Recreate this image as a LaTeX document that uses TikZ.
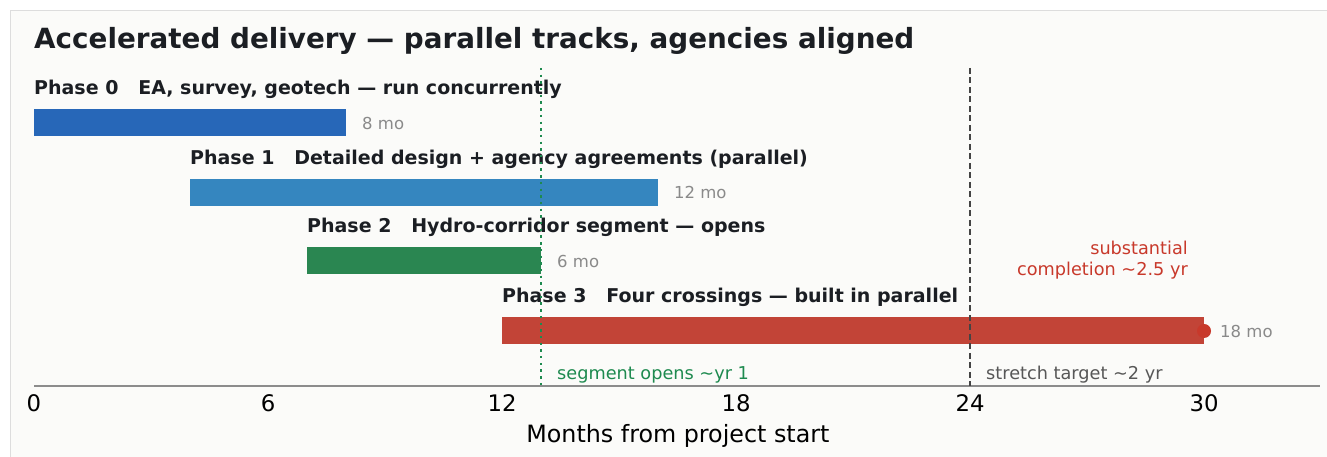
\documentclass[tikz,border=0pt]{standalone}
\usepackage{fontspec}
\setmainfont{DejaVu Sans}
\usepackage{tikz}
\usetikzlibrary{positioning}

\definecolor{inkdark}{HTML}{1B1E23}
\definecolor{durgray}{HTML}{8A8A8A}
\definecolor{panelbg}{HTML}{FBFBF9}
\definecolor{framegray}{HTML}{DDDDDD}
\definecolor{axisgray}{HTML}{8C8C8C}
\definecolor{phzero}{HTML}{2767B8}
\definecolor{phone}{HTML}{3586BF}
\definecolor{phtwo}{HTML}{2A8651}
\definecolor{phthree}{HTML}{C24437}
\definecolor{opengreen}{HTML}{1E8A4F}
\definecolor{stretchgray}{HTML}{444444}
\definecolor{donered}{HTML}{C8392B}

\begin{document}
\begin{tikzpicture}[
    x=39pt,y=1pt,
    bar/.style={minimum height=27pt,inner sep=0pt,outer sep=0pt,anchor=west},
    phase/.style={anchor=base west,inner sep=0pt,text=inkdark,
                  font=\fontsize{19}{22}\selectfont\bfseries},
    dur/.style={inner sep=0pt,anchor=west,text=durgray,font=\fontsize{16.5}{20}\selectfont},
    note/.style={inner sep=0pt,anchor=base west,font=\fontsize{17.7}{21}\selectfont},
    ticklbl/.style={inner sep=0pt,anchor=base,text=black,font=\fontsize{22.8}{27}\selectfont},
    node distance=16pt
  ]
    % page and panel
    \useasboundingbox (-34pt,-71pt) rectangle (1293pt,386pt);
    \fill[white] (-34pt,-71pt) rectangle (1293pt,386pt);
    \draw[fill=panelbg,draw=framegray,line width=1.5pt]
      (-23.5pt,-100pt) rectangle (1320pt,375.5pt);

    \node[anchor=base west,inner sep=0pt,text=inkdark,
          font=\fontsize{27.8}{32}\selectfont\bfseries] (title) at (0,337)
      {Accelerated delivery — parallel tracks, agencies aligned};

    % bars, one month = 39pt
    \node[bar,fill=phzero,minimum width=312pt] (bar0) at (0,263) {};
    \node[bar,fill=phone,minimum width=468pt] (bar1) at (4,193.5) {};
    \node[bar,fill=phtwo,minimum width=234pt] (bar2) at (7,125) {};
    \node[bar,fill=phthree,minimum width=702pt] (bar3) at (12,55) {};
    \fill[donered] (bar3.east) circle (7pt);

    \node[phase] (lbl0) at ([yshift=28pt]bar0.west)
      {Phase 0~~~EA, survey, geotech — run concurrently};
    \node[phase] (lbl1) at ([yshift=28pt]bar1.west)
      {Phase 1~~~Detailed design + agency agreements (parallel)};
    \node[phase] (lbl2) at ([yshift=28pt]bar2.west)
      {Phase 2~~~Hydro-corridor segment — opens};
    \node[phase] (lbl3) at ([yshift=28pt]bar3.west)
      {Phase 3~~~Four crossings — built in parallel};

    \node[dur,right=of bar0] (dur0) {8 mo};
    \node[dur,right=of bar1] (dur1) {12 mo};
    \node[dur,right=of bar2] (dur2) {6 mo};
    \node[dur,right=of bar3] (dur3) {18 mo};

    % axis
    \coordinate (ax0) at (0,0);
    \coordinate (ax1) at (32.97,0);
    \draw[axisgray,line width=1.3pt] (ax0) -- (ax1);
    \foreach \m in {0,6,...,30}
      \node[ticklbl] (tick\m) at (\m,-26) {\m};
    \node[ticklbl,font=\fontsize{23.8}{28}\selectfont] (xlabel) at (16.51,-57)
      {Months from project start};

    % milestone lines
    \coordinate (opentop) at (13,318);
    \coordinate (openbot) at (13,0);
    \draw[opengreen,line width=2.6pt,dash pattern=on 2.4pt off 4.3pt] (opentop) -- (openbot);
    \coordinate (stretchtop) at (24,318);
    \coordinate (stretchbot) at (24,0);
    \draw[stretchgray,line width=1.7pt,dash pattern=on 6pt off 3.5pt] (stretchtop) -- (stretchbot);

    \node[note,text=opengreen] (opennote) at ([xshift=16pt,yshift=6pt]openbot)
      {segment opens \textasciitilde yr 1};
    \node[note,text=stretchgray!90] (stretchnote) at ([xshift=16pt,yshift=6pt]stretchbot)
      {stretch target \textasciitilde 2 yr};
    \node[note,anchor=base east,align=right,text=donered] (donenote) at (29.59,110)
      {substantial\\completion \textasciitilde 2.5 yr};
\end{tikzpicture}
\end{document}
